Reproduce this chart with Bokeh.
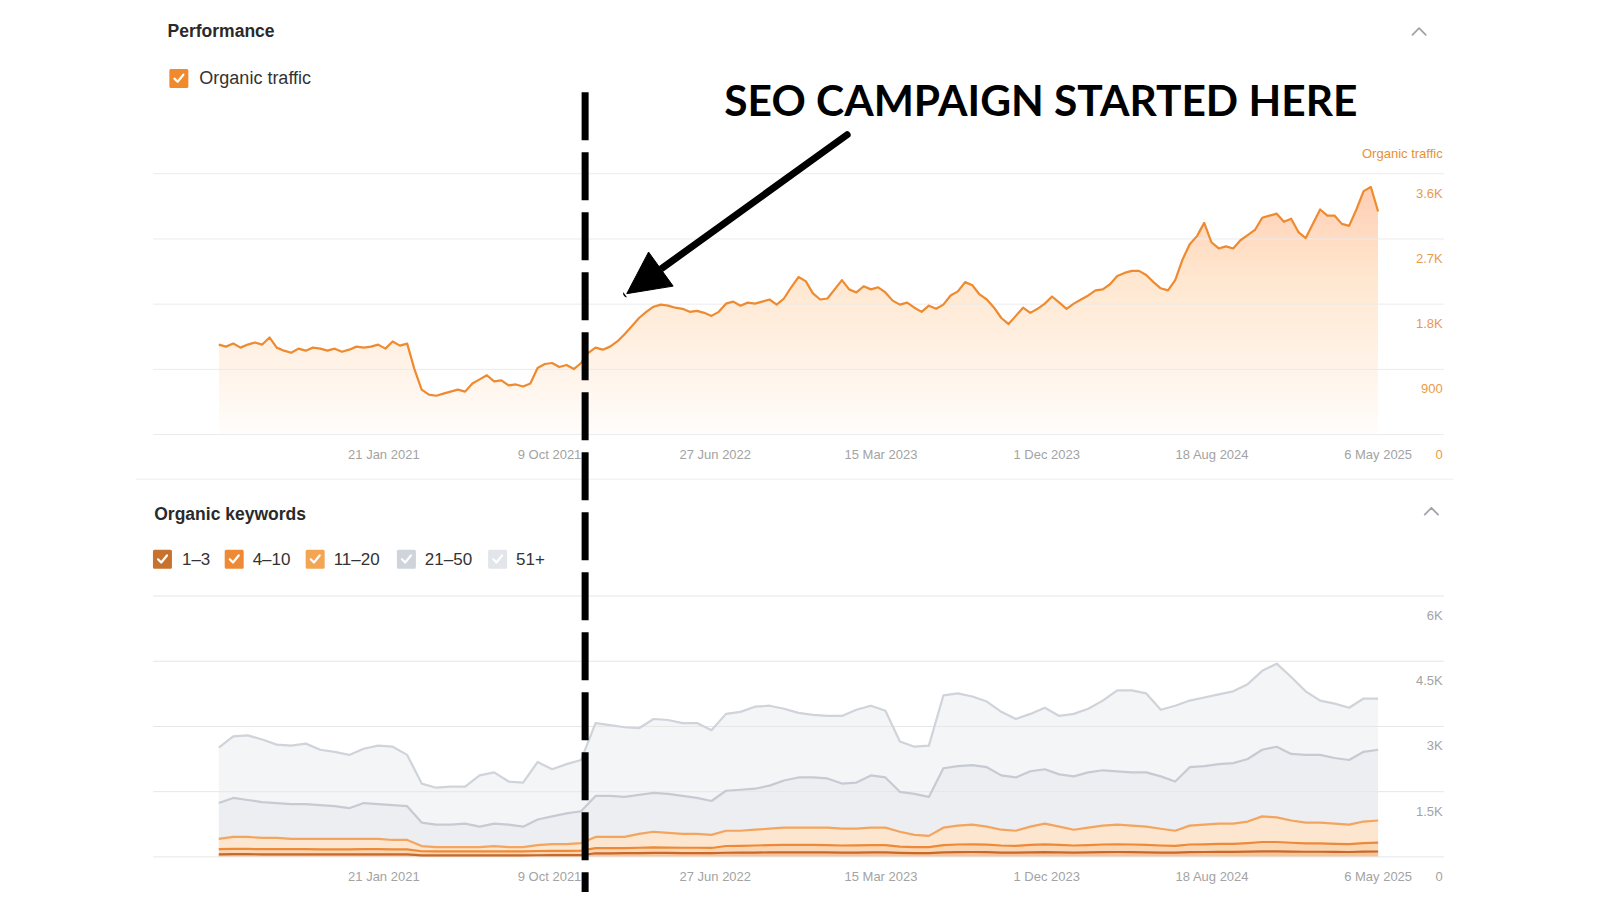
import numpy as np
import pandas as pd
from bokeh.plotting import figure
from bokeh.models import Range1d, LinearAxis, FixedTicker, Arrow, NormalHead, DatetimeTickFormatter
from bokeh.core.properties import value
from bokeh.embed import file_html
from bokeh.resources import INLINE

# ---------------- data ----------------
traffic_start = "2020-05-06"
traffic_end = "2025-05-06"
organic_traffic = [
    1242, 1214, 1256, 1200, 1242, 1271, 1242, 1341, 1200, 1158,
    1129, 1186, 1158, 1200, 1186, 1158, 1186, 1144, 1172, 1214,
    1200, 1214, 1242, 1186, 1285, 1228, 1256, 904, 621, 551,
    536, 565, 593, 621, 593, 706, 762, 819, 734, 748,
    678, 692, 664, 706, 918, 974, 988, 932, 960, 904,
    988, 1129, 1200, 1172, 1214, 1285, 1384, 1496, 1609, 1694,
    1765, 1793, 1779, 1751, 1736, 1694, 1708, 1680, 1638, 1694,
    1807, 1835, 1779, 1821, 1807, 1835, 1864, 1793, 1878, 2033,
    2174, 2118, 1948, 1864, 1878, 2004, 2132, 2004, 1962, 2047,
    2004, 2033, 1962, 1849, 1793, 1821, 1751, 1694, 1779, 1736,
    1793, 1920, 1976, 2104, 2061, 1934, 1864, 1751, 1609, 1525,
    1638, 1751, 1680, 1736, 1807, 1906, 1821, 1736, 1807, 1864,
    1920, 1991, 2004, 2075, 2188, 2231, 2259, 2259, 2202, 2104,
    2019, 1991, 2132, 2414, 2626, 2739, 2922, 2654, 2569, 2598,
    2569, 2682, 2753, 2824, 2993, 3021, 3049, 2936, 2979, 2795,
    2711, 2908, 3106, 3021, 3021, 2908, 2880, 3106, 3360, 3416,
    3078,
]

kw_start = "2020-05-06"
kw_end = "2025-05-06"
# number of keywords ranking at or above each position bucket (cumulative)
kw_upto_3 = [
    59, 62, 62, 59, 59, 59, 59, 57, 57, 57, 59, 59, 57, 57,
    35, 33, 33, 33, 33, 35, 33, 33, 38, 40, 40, 42,
    83, 83, 85, 88, 90, 90, 88, 88, 85,
    95, 97, 100, 103, 105, 105, 105, 103, 100, 100, 103, 103,
    92, 88, 88,
    106, 110, 112, 108, 100, 98, 105, 110, 105, 100, 104, 108, 112, 110, 106, 100, 98, 108, 112, 115, 115,
    120, 128, 128, 122, 118, 118, 115, 112, 120, 124,
]
kw_upto_10 = [
    177, 183, 183, 177, 177, 177, 177, 172, 172, 172, 177, 177, 172, 172,
    130, 125, 125, 125, 125, 130, 125, 125, 135, 140, 140, 145,
    200, 200, 200, 210, 220, 215, 210, 210, 205,
    250, 255, 262, 271, 275, 275, 275, 271, 262, 265, 271, 271,
    235, 224, 224,
    271, 285, 290, 280, 262, 255, 275, 290, 275, 262, 271, 285, 290, 285, 276, 262, 255, 285, 290, 300, 300,
    318, 342, 342, 325, 310, 310, 300, 295, 318, 330,
]
kw_upto_20 = [
    413, 460, 460, 436, 436, 413, 413, 413, 413, 413,
    413, 413, 389, 389, 248, 224, 224, 224, 224, 248,
    224, 224, 271, 295, 295, 318, 460, 460, 460, 530,
    578, 554, 530, 530, 507, 601, 601, 625, 648, 672,
    672, 672, 672, 648, 648, 672, 672, 578, 507, 483,
    672, 719, 743, 695, 625, 601, 695, 766, 695, 625,
    672, 719, 743, 719, 695, 648, 601, 719, 743, 766,
    766, 813, 931, 908, 837, 790, 790, 766, 743, 813,
    837,
]
kw_upto_50 = [
    1238, 1356, 1308, 1261, 1238, 1214, 1214, 1191, 1167, 1120,
    1238, 1214, 1191, 1167, 790, 743, 743, 766, 695, 766,
    743, 695, 861, 931, 1002, 1049, 1403, 1403, 1379, 1426,
    1474, 1450, 1403, 1356, 1285, 1521, 1544, 1568, 1639, 1757,
    1827, 1827, 1804, 1686, 1709, 1874, 1827, 1497, 1450, 1379,
    2039, 2086, 2110, 2063, 1874, 1827, 1969, 2016, 1898, 1851,
    1945, 1992, 1969, 1945, 1945, 1851, 1733, 2063, 2086, 2134,
    2157, 2251, 2464, 2534, 2369, 2346, 2346, 2275, 2228, 2417,
    2464,
]
kw_total = [
    2511, 2770, 2794, 2699, 2582, 2558, 2605, 2464, 2417, 2346,
    2487, 2558, 2534, 2346, 1686, 1591, 1615, 1615, 1874, 1945,
    1733, 1709, 2181, 2016, 2134, 2228, 3077, 3030, 2982, 2959,
    3171, 3148, 3077, 3077, 2912, 3289, 3336, 3454, 3477, 3407,
    3312, 3265, 3242, 3242, 3383, 3477, 3360, 2652, 2534, 2558,
    3713, 3760, 3690, 3572, 3336, 3171, 3289, 3430, 3242, 3289,
    3407, 3595, 3831, 3831, 3760, 3383, 3477, 3595, 3666, 3737,
    3808, 3973, 4279, 4444, 4138, 3808, 3595, 3525, 3430, 3642,
    3642,
]

x_tick_dates = ["2021-01-21", "2021-10-09", "2022-06-27", "2023-03-15",
                "2023-12-01", "2024-08-18", "2025-05-06"]
x_tick_labels = ["21 Jan 2021", "9 Oct 2021", "27 Jun 2022", "15 Mar 2023",
                 "1 Dec 2023", "18 Aug 2024", "6 May 2025"]
traffic_ticks = [0, 900, 1800, 2700, 3600]
traffic_tick_labels = ["0", "900", "1.8K", "2.7K", "3.6K"]
kw_ticks = [0, 1500, 3000, 4500, 6000]
kw_tick_labels = ["0", "1.5K", "3K", "4.5K", "6K"]
kw_legend = ["1–3", "4–10", "11–20", "21–50", "51+"]
campaign_start = "2021-12-04"
annotation_text = "SEO CAMPAIGN STARTED HERE"

# ---------------- layout ----------------
S = 1.025                       # layout units -> screen px
W, H = 1592, 892
PX_L, PX_R = 0.0, W / S
PX_T, PX_B = 0.0, H / S
DAY_MS = 86400000.0
ANCHOR_MS = pd.Timestamp(x_tick_dates[0]).value / 1e6
ANCHOR_PX = 374.0
PX_PER_DAY = 161.67 / 261.0


def px_to_ms(x):
    return ANCHOR_MS + (x - ANCHOR_PX) / PX_PER_DAY * DAY_MS


def vrange(base, top, vmax, dy=0.0):
    k = vmax / (base - top)
    return Range1d(start=(base + dy - PX_B) * k, end=(base + dy - PX_T) * k)


T_BASE, T_TOP = 423.5, 169.0
K_BASE, K_TOP = 835.5, 581.0
LBL_DY = 19.0
RIGHT = 1407
FONT = "Liberation Sans"

p = figure(width=W, height=H, title=None,
           x_range=Range1d(px_to_ms(PX_L), px_to_ms(PX_R)),
           y_range=Range1d(PX_B, PX_T),
           x_axis_type=None, y_axis_type=None,
           toolbar_location=None, output_backend="svg",
           min_border=0, outline_line_color=None,
           background_fill_color="white", border_fill_color="white")
p.extra_x_ranges = {"px": Range1d(PX_L, PX_R)}
p.extra_y_ranges = {
    "traffic": vrange(T_BASE, T_TOP, traffic_ticks[-1]),
    "traffic_lbl": vrange(T_BASE, T_TOP, traffic_ticks[-1], LBL_DY),
    "kw": vrange(K_BASE, K_TOP, kw_ticks[-1]),
    "kw_lbl": vrange(K_BASE, K_TOP, kw_ticks[-1], LBL_DY),
}

t_dates = pd.date_range(traffic_start, traffic_end, periods=len(organic_traffic))
k_dates = pd.date_range(kw_start, kw_end, periods=len(kw_total))

# ---------- top panel: organic traffic ----------
t = np.asarray(organic_traffic, dtype=float)
step = 100.0
prev = 0.0
for lo in np.arange(0, traffic_ticks[-1], step):
    target = 0.02 + 0.45 * (lo + step) / traffic_ticks[-1]
    a = 1 - (1 - target) / (1 - prev)
    prev = target
    p.varea(x=t_dates, y1=lo, y2=np.maximum(t, lo), fill_color="#f6ac66",
            fill_alpha=a, y_range_name="traffic")

p.segment(x0=149, x1=RIGHT + 1, y0=traffic_ticks, y1=traffic_ticks,
          x_range_name="px", y_range_name="traffic",
          line_color="#ebebeb", line_width=1)
p.line(t_dates, t, y_range_name="traffic", line_color="#ee8a2f", line_width=2.2,
       line_join="round")

# ---------- bottom panel: organic keywords ----------
layers = [np.zeros(len(kw_total)), np.asarray(kw_upto_3, float), np.asarray(kw_upto_10, float),
          np.asarray(kw_upto_20, float), np.asarray(kw_upto_50, float), np.asarray(kw_total, float)]
fills = ["#f7c59a", "#fad6b3", "#fde6cf", "#eceef1", "#f4f5f7"]
strokes = ["#c8692a", "#ec8a3a", "#f3a45e", "#c6cbd3", "#cfd3da"]
for i in range(5):
    p.varea(x=k_dates, y1=layers[i], y2=layers[i + 1], fill_color=fills[i],
            y_range_name="kw")
p.segment(x0=149, x1=RIGHT + 1, y0=kw_ticks, y1=kw_ticks,
          x_range_name="px", y_range_name="kw",
          line_color="#e6e6e6", line_width=1)
for i in range(4, -1, -1):
    p.line(k_dates, layers[i + 1], y_range_name="kw", line_color=strokes[i],
           line_width=2.2, line_join="round")

# separator between the two cards
p.segment(x0=[132], x1=[1418], y0=[467], y1=[467], x_range_name="px",
          line_color="#eeeeee", line_width=1)

# ---------- axes ----------
tick_ms = [pd.Timestamp(d).value / 1e6 for d in x_tick_dates]
fmt = "%-d %b %Y"


def add_x_axis(base):
    ax = LinearAxis(fixed_location=base, ticker=FixedTicker(ticks=tick_ms),
                    formatter=DatetimeTickFormatter(days=fmt, months=fmt, years=fmt),
                    major_label_overrides={k: v for k, v in zip(tick_ms, x_tick_labels)})
    ax.axis_line_color = None
    ax.major_tick_line_color = None
    ax.minor_tick_line_color = None
    ax.major_tick_out = 0
    ax.major_tick_in = 0
    ax.major_label_standoff = 12
    ax.major_label_text_font = FONT
    ax.major_label_text_font_size = "13px"
    ax.major_label_text_color = "#a3a3a3"
    p.add_layout(ax, "below")


def add_y_axis(rng, ticks, labels, loc, color):
    ax = LinearAxis(y_range_name=rng, x_range_name="px", fixed_location=loc,
                    ticker=FixedTicker(ticks=ticks),
                    major_label_overrides={k: v for k, v in zip(ticks, labels)})
    ax.axis_line_color = None
    ax.major_tick_line_color = None
    ax.minor_tick_line_color = None
    ax.major_tick_out = 0
    ax.major_tick_in = 0
    ax.major_label_standoff = 0
    ax.major_label_text_font = FONT
    ax.major_label_text_font_size = "13px"
    ax.major_label_text_color = color
    p.add_layout(ax, "left")


add_x_axis(T_BASE)
add_x_axis(K_BASE)
add_y_axis("traffic_lbl", traffic_ticks, traffic_tick_labels, RIGHT, "#e99a4a")
add_y_axis("kw_lbl", kw_ticks, kw_tick_labels, RIGHT, "#a3a3a3")

# ---------- card headers and legends ----------
def txt(x, y, s, size, color, bold=False, align="left", font=FONT):
    p.text(x=[x], y=[y], text=[s], x_range_name="px",
           text_font=value(font), text_font_size=value(size),
           text_font_style="bold" if bold else "normal",
           text_color=color, text_align=align, text_baseline="middle")


def checkbox(cx, cy, color):
    p.scatter(x=[cx], y=[cy], marker="square", size=16, fill_color=color,
              line_color=color, line_width=3, line_join="round", x_range_name="px")
    p.line(x=[cx - 4.3, cx - 1.2, cx + 4.4], y=[cy + 0.2, cy + 3.3, cy - 3.6],
           x_range_name="px", line_color="white", line_width=2.2,
           line_cap="round", line_join="round")


def chevron(cx, cy):
    p.line(x=[cx - 6.5, cx, cx + 6.5], y=[cy + 3.5, cy - 3, cy + 3.5],
           x_range_name="px", line_color="#a0a4aa", line_width=1.8,
           line_cap="round", line_join="round")


txt(163, 30, "Performance", "17.5px", "#2a2a2a", bold=True)
chevron(1384, 30)
checkbox(174, 76, "#f08a2c")
txt(194, 76, "Organic traffic", "18px", "#333333")
txt(RIGHT, 149, "Organic traffic", "13px", "#e8912f", align="right")

txt(150, 501, "Organic keywords", "17.5px", "#2a2a2a", bold=True)
chevron(1396, 498)
box_x = [158, 228, 307, 396, 485]
lbl_x = [177, 246, 325, 414, 503]
box_colors = ["#c7722f", "#ee8a36", "#f4a554", "#cfd4db", "#e2e5e9"]
for bx, lx, c, s in zip(box_x, lbl_x, box_colors, kw_legend):
    checkbox(bx, 545, c)
    txt(lx, 545, s, "17px", "#333333")

# ---------- annotation ----------
camp_ms = pd.Timestamp(campaign_start).value / 1e6
p.segment(x0=[camp_ms], x1=[camp_ms], y0=[89.5], y1=[H / S + 5], line_color="black",
          line_width=7, line_dash="48 12", line_cap="butt")
p.add_layout(Arrow(end=NormalHead(size=42, fill_color="black", line_color="black"),
                   x_start=826, y_start=131, x_end=611, y_end=286,
                   x_range_name="px", line_color="black", line_width=7,
                   line_cap="round"))
txt(1015, 96.5, annotation_text, "42.5px", "black", bold=True, align="center", font="Lato")

open("out.html", "w").write(file_html(p, INLINE))
